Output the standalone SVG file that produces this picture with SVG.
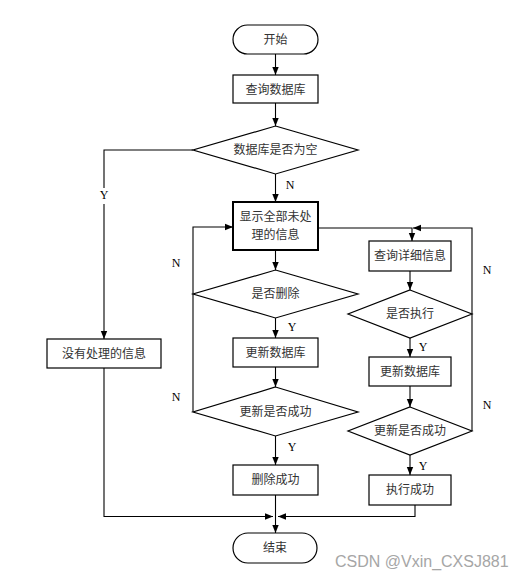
<svg xmlns="http://www.w3.org/2000/svg" width="526" height="580" viewBox="0 0 526 580">
<defs>
<marker id="ah" markerUnits="userSpaceOnUse" markerWidth="8" markerHeight="8" viewBox="0 0 8 8" refX="8" refY="4" orient="auto">
<path d="M0,0.8 L8,4 L0,7.2 Z" fill="#000"/>
</marker>
<style>
.s{fill:#fff;stroke:#000;stroke-width:1.2}
.t{font-family:"Noto Sans CJK SC","Liberation Serif",serif;font-size:12px;fill:#333;text-anchor:middle}
.l{font-family:"Liberation Serif",serif;font-size:12px;fill:#000;text-anchor:middle}
.c{fill:none;stroke:#000;stroke-width:1.1}
.a{marker-end:url(#ah)}
</style>
</defs>
<rect width="526" height="580" fill="#fff"/>
<g id="connectors">
<path class="c a" d="M275.5,54 V75"/>
<path class="c a" d="M275.5,103 V126"/>
<path class="c a" d="M275.5,174 V202"/>
<path class="c a" d="M275.5,250 V270"/>
<path class="c a" d="M275.5,318 V338"/>
<path class="c a" d="M275.5,367 V387"/>
<path class="c a" d="M275.5,436 V465"/>
<path class="c a" d="M275.5,495 V533"/>
<path class="c" d="M193,150 H104 V188"/>
<path class="c a" d="M104,204 V339"/>
<path class="c a" d="M104,368 V516.5 H273"/>
<path class="c a" d="M193,412 V227 H233"/>
<path class="c a" d="M318,228 H412 V241"/>
<path class="c a" d="M410,271 V290"/>
<path class="c a" d="M410,338 V357"/>
<path class="c a" d="M410,386 V407"/>
<path class="c a" d="M410,455 V475"/>
<path class="c a" d="M415,505 V516.5 H278"/>
<path class="c a" d="M472,431 V228 H413"/>
<text class="l" x="290" y="189">N</text>
<text class="l" x="104" y="199">Y</text>
<text class="l" x="292" y="331">Y</text>
<text class="l" x="292" y="451">Y</text>
<text class="l" x="423" y="351">Y</text>
<text class="l" x="423" y="470">Y</text>
<text class="l" x="176" y="267">N</text>
<text class="l" x="176" y="401">N</text>
<text class="l" x="487" y="274">N</text>
<text class="l" x="487" y="409">N</text>
</g>
<g id="start"><rect class="s" x="233" y="25" width="85" height="29" rx="14.5"/><text class="t" x="275.5" y="44">开始</text></g>
<g id="queryDb"><rect class="s" x="233" y="75" width="85" height="28"/><text class="t" x="275.5" y="93.5">查询数据库</text></g>
<g id="isEmpty"><polygon class="s" points="275.5,126 358,150 275.5,174 193,150"/><text class="t" x="275.5" y="154">数据库是否为空</text></g>
<g id="noInfo"><rect class="s" x="47" y="339" width="114" height="29"/><text class="t" x="104" y="357.5">没有处理的信息</text></g>
<g id="showAll"><rect class="s" x="233" y="202" width="85" height="48" style="stroke-width:2"/><text class="t" x="275.5" y="220.5">显示全部未处</text><text class="t" x="275.5" y="239">理的信息</text></g>
<g id="isDelete"><polygon class="s" points="275.5,270 358,294 275.5,318 193,294"/><text class="t" x="275.5" y="298">是否删除</text></g>
<g id="updateDbL"><rect class="s" x="233" y="338" width="85" height="29"/><text class="t" x="275.5" y="356.5">更新数据库</text></g>
<g id="updOkL"><polygon class="s" points="275.5,387 358,412 275.5,436 193,412"/><text class="t" x="275.5" y="416">更新是否成功</text></g>
<g id="delOk"><rect class="s" x="233" y="465" width="85" height="30"/><text class="t" x="275.5" y="484">删除成功</text></g>
<g id="queryDetail"><rect class="s" x="369" y="241" width="82" height="30"/><text class="t" x="410" y="260">查询详细信息</text></g>
<g id="isExec"><polygon class="s" points="410,290 472,314 410,338 348,314"/><text class="t" x="410" y="318">是否执行</text></g>
<g id="updateDbR"><rect class="s" x="369" y="357" width="82" height="29"/><text class="t" x="410" y="375.5">更新数据库</text></g>
<g id="updOkR"><polygon class="s" points="410,407 472,431 410,455 348,431"/><text class="t" x="410" y="435">更新是否成功</text></g>
<g id="execOk"><rect class="s" x="369" y="475" width="82" height="30"/><text class="t" x="410" y="494">执行成功</text></g>
<g id="end"><rect class="s" x="233" y="533" width="84" height="30" rx="15"/><text class="t" x="275" y="552">结束</text></g>
<text x="335" y="567" style="font-family:'Liberation Sans',sans-serif;font-size:16px;fill:#a6a6a6">CSDN @Vxin_CXSJ881</text>
</svg>
